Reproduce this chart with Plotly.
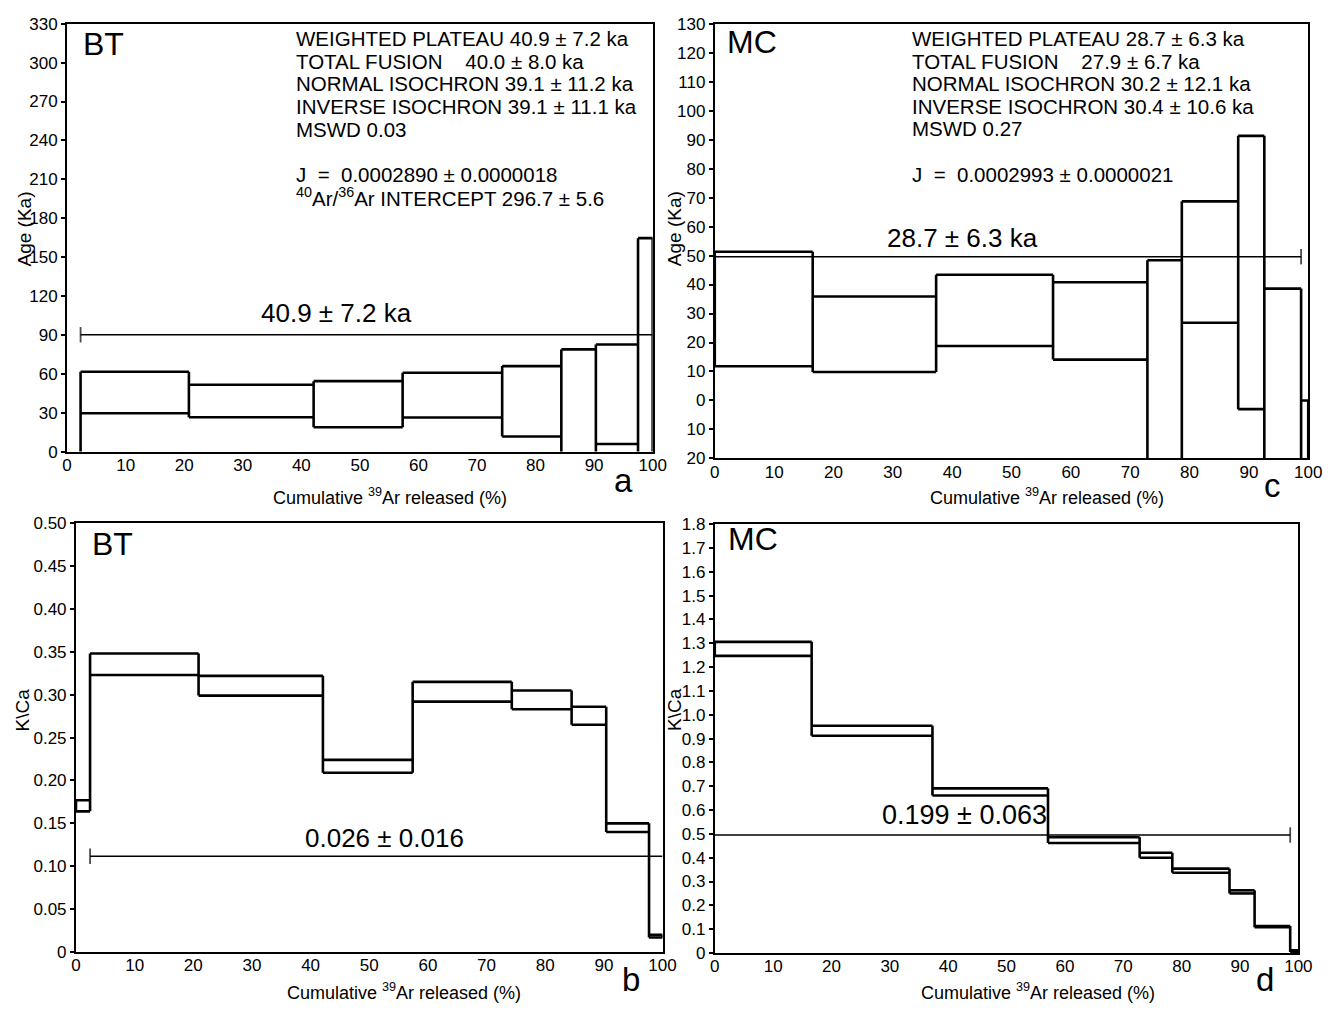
import plotly.graph_objects as go

W, H = 1338, 1015
FONT = "Liberation Sans, Arial, sans-serif"

# ---------------- data ----------------
# Panel a: BT age spectrum (Ka)
a_edges = [0, 2.3, 20.8, 42.1, 57.3, 74.3, 84.4, 90.3, 97.5, 100]
a_lo = [-60, 29.5, 26.5, 18.7, 26.3, 11.6, -10, 5.8, -20]
a_hi = [-10, 61.6, 51.5, 54.3, 60.8, 65.9, 78.8, 82.6, 164.6]
a_plateau = {"x": [2.3, 100], "y": 90.1, "label": "40.9 ± 7.2 ka"}

# Panel c: MC age spectrum (Ka)
c_edges = [0, 16.5, 37.3, 57.0, 72.9, 78.7, 88.2, 92.6, 98.8, 100]
c_lo = [11.8, 9.8, 18.8, 14.1, -25, 26.8, -3.0, -25, -30]
c_hi = [51.3, 35.9, 43.4, 40.8, 48.4, 68.7, 91.3, 38.6, 0.0]
c_plateau = {"x": [0, 98.8], "y": 49.6, "label": "28.7 ± 6.3 ka"}

# Panel b: BT K/Ca spectrum
b_edges = [0, 2.4, 20.9, 42.1, 57.4, 74.3, 84.5, 90.4, 97.7, 100]
b_lo = [0.164, 0.323, 0.299, 0.209, 0.292, 0.283, 0.265, 0.140, 0.017]
b_hi = [0.177, 0.348, 0.322, 0.224, 0.315, 0.305, 0.286, 0.150, 0.020]
b_plateau = {"x": [2.4, 100], "y": 0.1116, "label": "0.026 ± 0.016"}

# Panel d: MC K/Ca spectrum
d_edges = [0, 16.6, 37.3, 57.1, 72.8, 78.4, 88.2, 92.5, 98.6, 100]
d_lo = [1.247, 0.912, 0.661, 0.462, 0.400, 0.337, 0.250, 0.108, 0.004]
d_hi = [1.306, 0.954, 0.691, 0.486, 0.421, 0.354, 0.263, 0.113, 0.011]
d_plateau = {"x": [0, 98.6], "y": 0.495, "label": "0.199 ± 0.063"}

x_ticks = list(range(0, 101, 10))
a_yticks = list(range(0, 331, 30))
c_yticks = list(range(-20, 131, 10))
c_yticktext = [str(abs(v)) for v in c_yticks]
b_yticks = [i * 0.05 for i in range(11)]
b_yticktext = ["0"] + ["%.2f" % v for v in b_yticks[1:]]
d_yticks = [i * 0.1 for i in range(19)]
d_yticktext = ["0"] + ["%.1f" % v for v in d_yticks[1:]]

a_text = ["WEIGHTED PLATEAU 40.9 ± 7.2 ka",
          "TOTAL FUSION\u00a0\u00a0\u00a0\u00a040.0 ± 8.0 ka",
          "NORMAL ISOCHRON 39.1 ± 11.2 ka",
          "INVERSE ISOCHRON 39.1 ± 11.1 ka",
          "MSWD 0.03",
          "",
          "J\u00a0\u00a0=\u00a0\u00a00.0002890 ± 0.0000018",
          "<sup>40</sup>Ar/<sup>36</sup>Ar INTERCEPT 296.7 ± 5.6"]
c_text = ["WEIGHTED PLATEAU 28.7 ± 6.3 ka",
          "TOTAL FUSION\u00a0\u00a0\u00a0\u00a027.9 ± 6.7 ka",
          "NORMAL ISOCHRON 30.2 ± 12.1 ka",
          "INVERSE ISOCHRON 30.4 ± 10.6 ka",
          "MSWD 0.27",
          "",
          "J\u00a0\u00a0=\u00a0\u00a00.0002993 ± 0.0000021"]

xtitle = "Cumulative <sup>39</sup>Ar released (%)"

# ---------------- layout geometry (pixels) ----------------
panels = {
    "a": dict(x0=63, x1=657, y0=15, y1=451),
    "c": dict(x0=720, x1=1322, y0=15, y1=458),
    "b": dict(x0=72, x1=667, y0=524, y1=961),
    "d": dict(x0=720, x1=1312, y0=525, y1=962),
}


def dom(p):
    g = panels[p]
    return [g["x0"] / W, g["x1"] / W], [1 - g["y1"] / H, 1 - g["y0"] / H]


def px(x):
    return x / W


def py(y):
    return 1 - y / H


def step_path(edges, lo, hi):
    xs, ys = [], []
    n = len(lo)
    for i in range(n):
        for v in (lo[i], hi[i]):
            xs += [edges[i], edges[i + 1], None]
            ys += [v, v, None]
    for j in range(n + 1):
        vals = []
        if j > 0:
            vals += [lo[j - 1], hi[j - 1]]
        if j < n:
            vals += [lo[j], hi[j]]
        xs += [edges[j], edges[j], None]
        ys += [min(vals), max(vals), None]
    return xs, ys


fig = go.Figure()

specs = [
    ("a", "x", "y", a_edges, a_lo, a_hi, a_plateau, 0),
    ("c", "x2", "y2", c_edges, c_lo, c_hi, c_plateau, 1),
    ("b", "x3", "y3", b_edges, b_lo, b_hi, b_plateau, 0),
    ("d", "x4", "y4", d_edges, d_lo, d_hi, d_plateau, 1),
]

for name, xa, ya, edges, lo, hi, plat, cap_idx in specs:
    xs, ys = step_path(edges, lo, hi)
    fig.add_trace(go.Scatter(x=xs, y=ys, mode="lines", xaxis=xa, yaxis=ya,
                             line=dict(color="black", width=2.6),
                             hoverinfo="skip", showlegend=False))
    sizes = [0, 0]
    sizes[cap_idx] = 11
    fig.add_trace(go.Scatter(x=plat["x"], y=[plat["y"], plat["y"]],
                             mode="lines+markers", xaxis=xa, yaxis=ya,
                             line=dict(color="black", width=1.6),
                             marker=dict(symbol="line-ns", size=sizes,
                                         line=dict(color="black", width=1.8)),
                             cliponaxis=False,
                             hoverinfo="skip", showlegend=False))

tickfont = dict(family=FONT, size=17, color="black")
x_common = dict(showline=True, mirror=True, linecolor="black", linewidth=2,
                ticks="", ticklabelstandoff=-3,
                showgrid=False, zeroline=False, tickfont=tickfont)
y_common = dict(showline=True, mirror=True, linecolor="black", linewidth=2,
                ticks="outside", ticklen=4, tickwidth=1.5, tickcolor="black",
                showgrid=False, zeroline=False, tickfont=tickfont)

xd, yd = dom("a")
fig.update_layout(
    xaxis=dict(domain=xd, range=[0, 100], tickvals=x_ticks, anchor="y", **x_common),
    yaxis=dict(domain=yd, range=[0, 330], tickvals=a_yticks, anchor="x", **y_common),
)
xd, yd = dom("c")
fig.update_layout(
    xaxis2=dict(domain=xd, range=[0, 100], tickvals=x_ticks, anchor="y2", **x_common),
    yaxis2=dict(domain=yd, range=[-20, 130], tickvals=c_yticks, ticktext=c_yticktext,
                anchor="x2", **y_common),
)
xd, yd = dom("b")
fig.update_layout(
    xaxis3=dict(domain=xd, range=[0, 100], tickvals=x_ticks, anchor="y3", **x_common),
    yaxis3=dict(domain=yd, range=[0, 0.5], tickvals=b_yticks, ticktext=b_yticktext,
                anchor="x3", **y_common),
)
xd, yd = dom("d")
fig.update_layout(
    xaxis4=dict(domain=xd, range=[0, 100], tickvals=x_ticks, anchor="y4", **x_common),
    yaxis4=dict(domain=yd, range=[0, 1.8], tickvals=d_yticks, ticktext=d_yticktext,
                anchor="x4", **y_common),
)

ann = []


def add_text(text, x, y, size, xanchor="center", yanchor="middle", textangle=0):
    ann.append(dict(text=text, x=px(x), y=py(y), xref="paper", yref="paper",
                    xanchor=xanchor, yanchor=yanchor, showarrow=False,
                    textangle=textangle,
                    font=dict(family=FONT, size=size, color="black")))


# sample labels
add_text("BT", 77, 36, 32, xanchor="left")
add_text("MC", 730, 34, 32, xanchor="left")
add_text("BT", 86, 545, 32, xanchor="left")
add_text("MC", 731, 540, 32, xanchor="left")

# panel letters
add_text("a", 627, 480, 33)
add_text("c", 1286, 486, 33)
add_text("b", 635, 989, 33)
add_text("d", 1278, 989, 33)

# axis titles
add_text(xtitle, 391, 497, 18)
add_text(xtitle, 1057, 497, 18)
add_text(xtitle, 405, 1001, 18)
add_text(xtitle, 1048, 1001, 18)
add_text("Age (Ka)", 20, 224, 19, textangle=-90)
add_text("Age (Ka)", 679, 224, 19, textangle=-90)
add_text("K\\Ca", 18, 714, 19, textangle=-90)
add_text("K\\Ca", 679, 714, 19, textangle=-90)

# plateau labels
add_text(a_plateau["label"], 336, 310, 26)
add_text(c_plateau["label"], 971, 233, 26)
add_text(b_plateau["label"], 385, 845, 26)
add_text(d_plateau["label"], 973, 821, 27)

# info blocks
a_lines_y = [30, 53, 76, 99, 123, 146, 169, 192]
for t, yy in zip(a_text, a_lines_y):
    if t:
        add_text(t, 293, yy, 20.5, xanchor="left")
c_lines_y = [30, 53, 76, 99, 122, 145, 169]
for t, yy in zip(c_text, c_lines_y):
    if t:
        add_text(t, 918, yy, 20.5, xanchor="left")

fig.update_layout(
    width=W, height=H,
    margin=dict(l=0, r=0, t=0, b=0),
    paper_bgcolor="white", plot_bgcolor="white",
    showlegend=False,
    annotations=ann,
    font=dict(family=FONT, color="black"),
)

fig.write_html("out.html")
